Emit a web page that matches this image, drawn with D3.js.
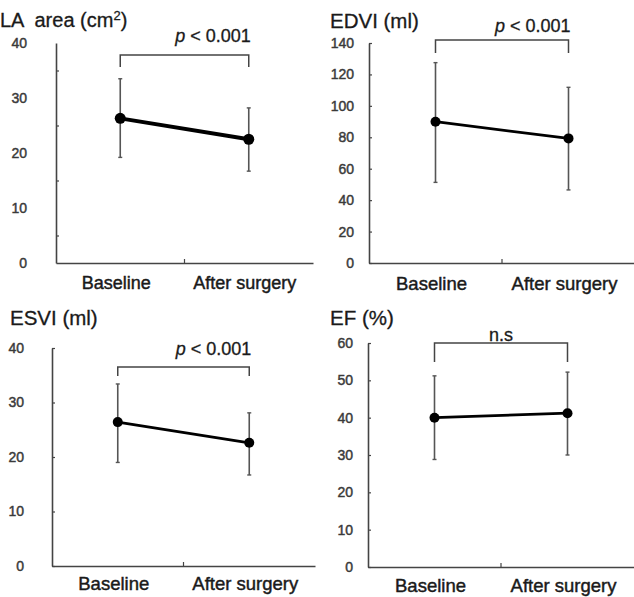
<!DOCTYPE html>
<html>
<head>
<meta charset="utf-8">
<script src="https://cdn.jsdelivr.net/npm/d3@7/dist/d3.min.js"></script>
<style>
  html, body { margin: 0; padding: 0; background: #fff; }
  svg { display: block; font-family: "Liberation Sans", Arial, sans-serif; }
  text { white-space: pre; }
</style>
</head>
<body>
<svg id="chart" width="634" height="597"></svg>
<script>
// ---------- data ----------
const categories = ["Baseline", "After surgery"];

const laMean  = [26.3, 22.5];
const laUpper = [33.5, 28.2];
const laLower = [19.2, 16.7];
const laTicks = [0, 10, 20, 30, 40];

const edviMean  = [89.9, 79.3];
const edviUpper = [127.5, 111.8];
const edviLower = [51.3, 46.5];
const edviTicks = [0, 20, 40, 60, 80, 100, 120, 140];

const esviMean  = [26.4, 22.6];
const esviUpper = [33.4, 28.1];
const esviLower = [19.0, 16.7];
const esviTicks = [0, 10, 20, 30, 40];

const efMean  = [40.0, 41.2];
const efUpper = [51.2, 52.2];
const efLower = [28.8, 30.0];
const efTicks = [0, 10, 20, 30, 40, 50, 60];

const titles = ["LA  area (cm", "EDVI (ml)", "ESVI (ml)", "EF (%)"];
const sigLabels = ["p < 0.001", "p < 0.001", "p < 0.001", "n.s"];

// ---------- layout ----------
const panels = [
  { mean: laMean, upper: laUpper, lower: laLower, ticks: laTicks, tickMarks: [5, 15, 25, 35],
    title: titles[0], sup: "2", sig: sigLabels[0],
    ax: 56, right: 313, y0: 263, yTop: 43,
    titleX: 0, titleY: 27, titleSize: 20, tickSize: 14, tickPad: 29,
    labY: 289, labSize: 18,
    brTop: 55, brEnd: 67, sigY: 42, sigItalic: true, lineW: 4, r: 5.5 },
  { mean: edviMean, upper: edviUpper, lower: edviLower, ticks: edviTicks, tickMarks: edviTicks,
    title: titles[1], sup: null, sig: sigLabels[1],
    ax: 369, right: 635, y0: 263, yTop: 43,
    titleX: 330, titleY: 28, titleSize: 20.5, tickSize: 14, tickPad: 15,
    labY: 290, labSize: 18.5,
    brTop: 40, brEnd: 53, sigY: 32, sigItalic: true, lineW: 2.8, r: 5 },
  { mean: esviMean, upper: esviUpper, lower: esviLower, ticks: esviTicks, tickMarks: esviTicks,
    title: titles[2], sup: null, sig: sigLabels[2],
    ax: 52, right: 315, y0: 566, yTop: 348,
    titleX: 10, titleY: 325, titleSize: 20.5, tickSize: 14, tickPad: 28,
    labY: 590, labSize: 18.5,
    brTop: 367, brEnd: 376, sigY: 355, sigItalic: true, lineW: 2.8, r: 5 },
  { mean: efMean, upper: efUpper, lower: efLower, ticks: efTicks, tickMarks: efTicks,
    title: titles[3], sup: null, sig: sigLabels[3],
    ax: 368, right: 634, y0: 567, yTop: 343,
    titleX: 330, titleY: 325, titleSize: 20.5, tickSize: 14, tickPad: 15,
    labY: 592, labSize: 18.5,
    brTop: 343, brEnd: 362, sigY: 341, sigItalic: false, lineW: 2.8, r: 5 }
];

const svg = d3.select("#chart");
const axisColor = "#444";
const ink = "#1a1a1a";

function heavy(sel, color, w) {
  sel.attr("fill", color).attr("stroke", color).attr("stroke-width", w).attr("paint-order", "stroke");
}

panels.forEach(p => {
  const g = svg.append("g");
  const maxV = p.ticks[p.ticks.length - 1];
  const y = d3.scaleLinear().domain([0, maxV]).range([p.y0, p.yTop]);
  const x = d3.scalePoint().domain(categories).range([p.ax, p.right]).padding(0.5);

  // title
  const t = g.append("text")
    .attr("x", p.titleX).attr("y", p.titleY)
    .attr("font-size", p.titleSize)
    .text(p.title);
  heavy(t, ink, 0.3);
  if (p.sup) {
    t.append("tspan").attr("dy", -7).attr("font-size", p.titleSize * 0.65).text(p.sup);
    t.append("tspan").attr("dy", 7).text(")");
  }

  // y tick labels
  const labAxis = d3.axisLeft(y).tickValues(p.ticks).tickSize(0).tickPadding(p.tickPad);
  const la = g.append("g").attr("transform", `translate(${p.ax},0)`).call(labAxis);
  la.select(".domain").remove();
  const lt = la.selectAll("text").attr("font-size", p.tickSize)
    .attr("font-family", "Liberation Sans, Arial, sans-serif");
  heavy(lt, "#3a3a3a", 0.45);

  // y axis line with small inward tick marks
  const tickAxis = d3.axisRight(y).tickValues(p.tickMarks).tickSize(3).tickSizeOuter(0).tickFormat("");
  const ta = g.append("g").attr("transform", `translate(${p.ax},0)`).call(tickAxis);
  ta.select(".domain").attr("stroke", axisColor).attr("stroke-width", 1.6);
  ta.selectAll(".tick line").attr("stroke", axisColor).attr("stroke-width", 1.2);

  // x axis
  const band = d3.scaleBand().domain(categories).range([p.ax, p.right]);
  const xAxis = d3.axisBottom(band).tickSize(0).tickFormat("");
  const xa = g.append("g").attr("transform", `translate(0,${p.y0})`).call(xAxis);
  xa.select(".domain").attr("stroke", axisColor).attr("stroke-width", 1.6);
  const mid = band(categories[1]);
  g.append("line").attr("x1", mid).attr("x2", mid).attr("y1", p.y0).attr("y2", p.y0 - 4)
    .attr("stroke", axisColor).attr("stroke-width", 1.2);

  // category labels
  categories.forEach(c => {
    const ct = g.append("text").attr("x", x(c) - 4).attr("y", p.labY)
      .attr("text-anchor", "middle").attr("font-size", p.labSize)
      .text(c);
    heavy(ct, ink, 0.45);
  });

  // error bars
  categories.forEach((c, i) => {
    const cx = x(c);
    g.append("line").attr("x1", cx).attr("x2", cx)
      .attr("y1", y(p.upper[i])).attr("y2", y(p.lower[i]))
      .attr("stroke", "#555").attr("stroke-width", 1.6);
    [p.upper[i], p.lower[i]].forEach(v => {
      g.append("line").attr("x1", cx - 2).attr("x2", cx + 2)
        .attr("y1", y(v)).attr("y2", y(v))
        .attr("stroke", "#555").attr("stroke-width", 1.4);
    });
  });

  // mean line
  const line = d3.line().x((d, i) => x(categories[i])).y(d => y(d));
  g.append("path").datum(p.mean).attr("d", line)
    .attr("fill", "none").attr("stroke", "#000").attr("stroke-width", p.lineW);

  // markers
  g.selectAll("circle.m").data(p.mean).enter().append("circle")
    .attr("cx", (d, i) => x(categories[i])).attr("cy", d => y(d))
    .attr("r", p.r).attr("fill", "#000");

  // significance bracket
  const bx1 = x(categories[0]), bx2 = x(categories[1]);
  g.append("path")
    .attr("d", `M${bx1},${p.brEnd}V${p.brTop}H${bx2}V${p.brEnd}`)
    .attr("fill", "none").attr("stroke", "#444").attr("stroke-width", 1.5);

  const sig = g.append("text").attr("y", p.sigY).attr("font-size", 18);
  heavy(sig, ink, 0.3);
  if (p.sigItalic) {
    sig.attr("x", bx2 + 2).attr("text-anchor", "end");
    const parts = p.sig.split(" ");
    sig.append("tspan").attr("font-style", "italic").text(parts[0]);
    sig.append("tspan").text(" " + parts.slice(1).join(" "));
  } else {
    sig.attr("x", (bx1 + bx2) / 2).attr("text-anchor", "middle").text(p.sig);
  }
});
</script>
</body>
</html>
